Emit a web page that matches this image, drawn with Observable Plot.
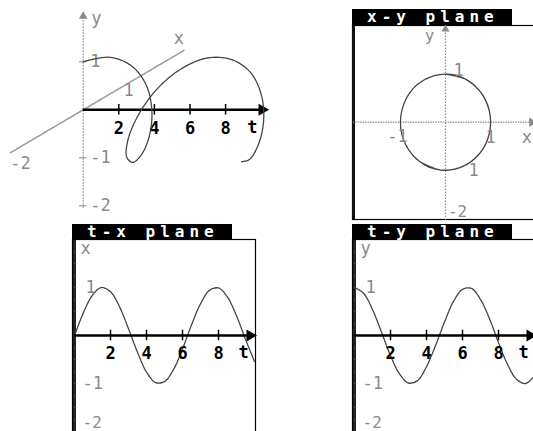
<!DOCTYPE html>
<html><head><meta charset="utf-8">
<script src="https://cdn.jsdelivr.net/npm/d3@7"></script>
<script src="https://cdn.jsdelivr.net/npm/@observablehq/plot@0.6"></script>
<style>
html,body{margin:0;padding:0;background:#fff}
#root{position:relative;width:533px;height:431px;overflow:hidden;background:#fff}
.panel{position:absolute}
.panel svg{overflow:visible;display:block;max-width:none !important}
.title{position:absolute;background:#000;color:#fff;font:bold 16px "DejaVu Sans Mono",monospace;letter-spacing:5px;line-height:15px;height:16px;width:160px;box-sizing:border-box;padding-left:15px;white-space:nowrap}
</style></head>
<body><div id="root"></div>
<script>
// Curve samples (t, horizontal component x, vertical component y)
const T = [0,0.5,1,1.5,2,2.5,3,3.5,4,4.5,5,5.5,6,6.5,7,7.5,8,8.5,9,9.5,10];
const X = [0,0.48,0.84,1.00,0.91,0.60,0.14,-0.35,-0.76,-0.98,-0.96,-0.71,-0.28,0.22,0.66,0.94,0.99,0.80,0.41,-0.08,-0.54];
const Y = [1,0.88,0.54,0.07,-0.42,-0.80,-0.99,-0.94,-0.65,-0.21,0.28,0.71,0.96,0.98,0.75,0.35,-0.15,-0.60,-0.91,-1.00,-0.84];
const tTicks = [2,4,6,8];
const vTicks = [1,-1,-2];
const obliqueExtent = [-2, 2.8];
const titles = ["x-y plane","t-x plane","t-y plane"];

const data = T.map((t,i)=>({t, x:X[i], y:Y[i]}));
const root = document.getElementById("root");
const GRAY = "#8a8a8a", CURVE = "#444", FONT = "DejaVu Sans Mono";
const lab = (t)=> (t<0 ? "-"+(-t) : String(t));

function panel({left, top, width, height, ox, oy, ux, uy, marks}) {
  const svg = Plot.plot({
    width, height, margin:0,
    x:{domain:[-ox/ux, (width-ox)/ux], axis:null},
    y:{domain:[-(height-oy)/uy, oy/uy], axis:null},
    style:{background:"transparent", overflow:"visible", fontFamily:FONT, maxWidth:"none"},
    marks
  });
  const div = document.createElement("div");
  div.className = "panel";
  div.style.left = left+"px"; div.style.top = top+"px";
  div.style.width = width+"px"; div.style.height = height+"px";
  div.appendChild(svg);
  root.appendChild(div);
}
function title(text, left, top) {
  const d = document.createElement("div");
  d.className = "title"; d.textContent = text;
  d.style.left = left+"px"; d.style.top = top+"px";
  root.appendChild(d);
}

// ---------- Panel 1: 3-D view (t horizontal, y vertical, x oblique) ----------
const kx = 2.04, ky = 0.446;   // oblique projection of the x axis
panel({left:0, top:0, width:280, height:215, ox:82.7, oy:109.3, ux:17.8, uy:48, marks:[
  Plot.ruleX([0], {y1:-2.05, y2:1.92, stroke:GRAY, strokeWidth:1.2, strokeDasharray:"1.5,1.5"}),
  Plot.dot([0], {x:0, y:1.95, symbol:"triangle", r:3.2, fill:GRAY, stroke:null}),
  Plot.ruleY(vTicks, {x1:-0.22, x2:0.22, stroke:GRAY}),
  Plot.text(vTicks, {x:0, y:d=>d, text:lab, dx:7, textAnchor:"start", fill:GRAY, fontSize:17}),
  Plot.text(["y"], {x:0, y:1.95, dx:8, dy:2, textAnchor:"start", fill:GRAY, fontSize:17}),
  Plot.line(obliqueExtent, {x:d=>kx*d, y:d=>ky*d, stroke:"#999", strokeWidth:1.6, strokeDasharray:"1.2,1.3"}),
  Plot.text([1], {x:d=>kx*d, y:d=>ky*d, text:lab, dx:9, dy:2, fill:GRAY, fontSize:17}),
  Plot.text([-2], {x:d=>kx*d, y:d=>ky*d, text:lab, dx:10, dy:11, fill:GRAY, fontSize:17}),
  Plot.text(["x"], {x:kx*2.8, y:ky*2.8, dx:-6, dy:-11, fill:GRAY, fontSize:17}),
  Plot.ruleY([0], {x1:0, x2:10.0, stroke:"#000", strokeWidth:2.6}),
  Plot.dot([0], {x:10.05, y:0, symbol:"triangle", r:4.5, fill:"#000", stroke:null, rotate:90}),
  Plot.ruleX(tTicks, {y1:-0.11, y2:0.11, stroke:"#000", strokeWidth:1.5}),
  Plot.text(tTicks, {x:d=>d, y:0, dy:19, fontWeight:"bold", fontSize:17, fill:"#000"}),
  Plot.text(["t"], {x:9.5, y:0, dy:18, fontWeight:"bold", fontSize:17, fill:"#000"}),
  Plot.line(data, {x:d=>d.t + kx*d.x, y:d=>d.y + ky*d.x, curve:"catmull-rom", stroke:CURVE, strokeWidth:1.3, strokeDasharray:"2.5,0.6"})
]});

// ---------- Panel 2: x-y plane ----------
panel({left:352, top:25, width:190, height:194, ox:93, oy:96.7, ux:45, uy:48, marks:[
  Plot.frame({stroke:"#000", strokeWidth:1.2}),
  Plot.ruleX([-92/45], {stroke:"#111", strokeWidth:3}),
  Plot.ruleY([0], {x1:-2.05, x2:1.9, stroke:GRAY, strokeWidth:1.3, strokeDasharray:"1.5,1"}),
  Plot.dot([0], {x:1.92, y:0, symbol:"triangle", r:3.5, fill:GRAY, stroke:null, rotate:90}),
  Plot.ruleX([0], {y1:-2.05, y2:1.93, stroke:GRAY, strokeWidth:1.2, strokeDasharray:"1.5,1.5"}),
  Plot.dot([0], {x:0, y:1.94, symbol:"triangle", r:3, fill:GRAY, stroke:null}),
  Plot.line(data, {x:"x", y:"y", curve:"catmull-rom", stroke:CURVE, strokeWidth:1.3, strokeDasharray:"2.5,0.6"}),
  Plot.text([1], {x:0, y:d=>d, text:lab, dx:13, dy:-4, fill:GRAY, fontSize:17}),
  Plot.text([-1], {x:d=>d, y:0, text:lab, dx:-3, dy:14, fill:GRAY, fontSize:17}),
  Plot.text([1], {x:d=>d, y:0, text:lab, dx:0, dy:15, fill:GRAY, fontSize:17}),
  Plot.text([1], {x:0, y:-1, text:lab, dx:28, dy:0, fill:GRAY, fontSize:17}),
  Plot.text([-2], {x:0, y:d=>d, text:lab, dx:12, dy:-6, fill:GRAY, fontSize:16}),
  Plot.text(["x"], {x:1.92, y:0, dx:-5, dy:15, fill:GRAY, fontSize:17}),
  Plot.text(["y"], {x:0, y:1.94, dx:-16, dy:7, fill:GRAY, fontSize:16})
]});

// ---------- Panels 3 & 4: t-x and t-y planes ----------
function tPanel(left, width, key, name) {
  panel({left, top:239, width, height:195, ox:2, oy:96, ux:18, uy:48, marks:[
    Plot.frame({stroke:"#000", strokeWidth:1.2}),
    Plot.ruleX([0], {stroke:"#222", strokeWidth:3}),
    Plot.ruleY(d3.range(-2, 2.01, 0.25), {x1:0, x2:0.12, stroke:"#444", strokeWidth:1}),
    Plot.line(data, {x:"t", y:key, curve:"catmull-rom", stroke:CURVE, strokeWidth:1.3, strokeDasharray:"2.5,0.6", clip:true}),
    Plot.ruleY([0], {x1:0, x2:9.7, stroke:"#000", strokeWidth:2.6}),
    Plot.dot([0], {x:9.75, y:0, symbol:"triangle", r:4.5, fill:"#000", stroke:null, rotate:90}),
    Plot.ruleX(tTicks, {y1:-0.11, y2:0.11, stroke:"#000", strokeWidth:1.5}),
    Plot.text(tTicks, {x:d=>d, y:0, dy:18, fontWeight:"bold", fontSize:17, fill:"#000"}),
    Plot.text(["t"], {x:9.4, y:0, dy:17, fontWeight:"bold", fontSize:17, fill:"#000"}),
    Plot.text([vTicks[0]], {x:0, y:d=>d, text:lab, dx:11, textAnchor:"start", fill:GRAY, fontSize:17}),
    Plot.text([vTicks[1]], {x:0, y:d=>d, text:lab, dx:8, textAnchor:"start", fill:GRAY, fontSize:17}),
    Plot.text([vTicks[2]], {x:0, y:d=>d, text:lab, dx:8, dy:-9, textAnchor:"start", fill:GRAY, fontSize:16}),
    Plot.text([name], {x:0, y:1.81, dx:6, textAnchor:"start", fill:GRAY, fontSize:17})
  ]});
}
tPanel(72, 183, "x", "x");
tPanel(352, 190, "y", "y");

title(titles[0], 352, 9);
title(titles[1], 72, 224);
title(titles[2], 352, 224);
</script>
</body></html>
